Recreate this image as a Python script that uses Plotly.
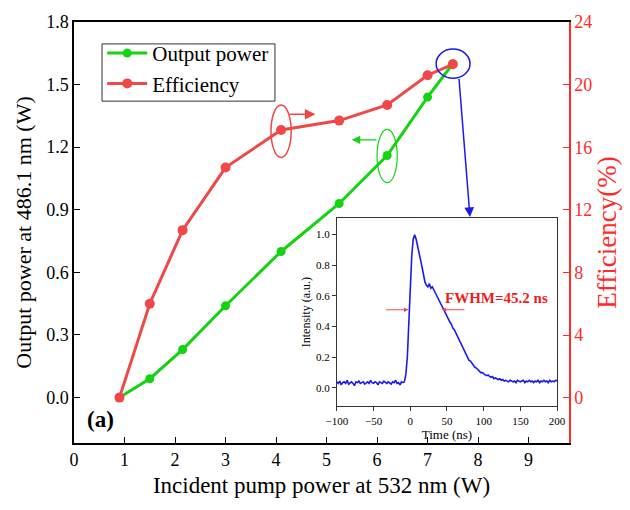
import plotly.graph_objects as go

# Pump-power scan: output power at 486.1 nm and conversion efficiency
pump_w = [0.9, 1.5, 2.15, 3.0, 4.1, 5.25, 6.2, 7.0, 7.5]
power_w = [0.0, 0.09, 0.23, 0.44, 0.70, 0.93, 1.16, 1.44, 1.60]
efficiency_pct = [0.0, 6.0, 10.7, 14.7, 17.1, 17.7, 18.7, 20.6, 21.3]

x_ticks = [0, 1, 2, 3, 4, 5, 6, 7, 8, 9]
power_ticks = [0.0, 0.3, 0.6, 0.9, 1.2, 1.5, 1.8]
power_tick_text = ["0.0", "0.3", "0.6", "0.9", "1.2", "1.5", "1.8"]
eff_ticks = [0, 4, 8, 12, 16, 20, 24]

# Pulse waveform at maximum output (inset)
t_ns = [-100, -98, -96, -94, -92, -90, -88, -86, -84, -82, -80, -78, -76, -74, -72,
        -70, -68, -66, -64, -62, -60, -58, -56, -54, -52, -50, -48, -46, -44, -42,
        -40, -38, -36, -34, -32, -30, -28, -26, -24, -22, -20, -18, -16, -14, -12,
        -10, -8, -6, -4, -2, 0, 2, 4, 6, 8, 10, 12, 14, 16, 18,
        20, 22, 24, 26, 28, 30, 32, 34, 36, 38, 40, 42, 44, 46, 48,
        50, 52, 54, 56, 58, 60, 62, 64, 66, 68, 70, 72, 74, 76, 78,
        80, 82, 84, 86, 88, 90, 92, 94, 96, 98, 100, 102, 104, 106, 108,
        110, 112, 114, 116, 118, 120, 122, 124, 126, 128, 130, 132, 134, 136, 138,
        140, 142, 144, 146, 148, 150, 152, 154, 156, 158, 160, 162, 164, 166, 168,
        170, 172, 174, 176, 178, 180, 182, 184, 186, 188, 190, 192, 194, 196, 198, 200]
intensity = [0.04, 0.03, 0.045, 0.02, 0.035, 0.04, 0.03, 0.05, 0.025, 0.035, 0.04, 0.03, 0.015, 0.04, 0.035,
             0.045, 0.03, 0.035, 0.04, 0.025, 0.035, 0.04, 0.03, 0.05, 0.035, 0.03, 0.04, 0.035, 0.02, 0.04,
             0.035, 0.03, 0.045, 0.035, 0.03, 0.04, 0.035, 0.025, 0.04, 0.035, 0.05, 0.03, 0.035, 0.02, 0.04,
             0.035, 0.04, 0.09, 0.20, 0.43, 0.64, 0.86, 0.97, 1.0, 0.97, 0.93, 0.89, 0.84, 0.79, 0.74,
             0.69, 0.67, 0.66, 0.68, 0.65, 0.66, 0.64, 0.63, 0.60, 0.585, 0.56, 0.545, 0.525, 0.50, 0.485,
             0.47, 0.45, 0.43, 0.415, 0.39, 0.38, 0.36, 0.335, 0.32, 0.30, 0.28, 0.265, 0.24, 0.225, 0.20,
             0.18, 0.175, 0.16, 0.15, 0.135, 0.13, 0.12, 0.115, 0.10, 0.10, 0.09, 0.085, 0.08, 0.085, 0.075,
             0.07, 0.075, 0.06, 0.065, 0.06, 0.055, 0.06, 0.05, 0.055, 0.045, 0.05, 0.045, 0.04, 0.05, 0.045,
             0.04, 0.045, 0.035, 0.05, 0.045, 0.04, 0.045, 0.05, 0.035, 0.045, 0.04, 0.05, 0.04, 0.045, 0.035,
             0.045, 0.04, 0.05, 0.035, 0.045, 0.04, 0.05, 0.04, 0.045, 0.035, 0.05, 0.04, 0.045, 0.04, 0.05, 0.045]
time_ticks = [-100, -50, 0, 50, 100, 150, 200]
intensity_ticks = [0.0, 0.2, 0.4, 0.6, 0.8, 1.0]
intensity_tick_text = ["0.0", "0.2", "0.4", "0.6", "0.8", "1.0"]

fwhm_ns = 45.2
fwhm_start_ns = -2.5
half_max = 0.51

SERIF = "Liberation Serif"
GREEN = "#13d313"
RED = "#f04848"
AXRED = "#ff2a2a"
BLUE = "#1a1aee"

fig = go.Figure()

fig.add_trace(go.Scatter(
    x=pump_w, y=power_w, name="Output power", mode="lines+markers",
    line=dict(color=GREEN, width=3), marker=dict(color=GREEN, size=9),
    xaxis="x", yaxis="y"))
fig.add_trace(go.Scatter(
    x=pump_w, y=efficiency_pct, name="Efficiency", mode="lines+markers",
    line=dict(color=RED, width=3), marker=dict(color=RED, size=10),
    xaxis="x", yaxis="y2"))
fig.add_trace(go.Scatter(
    x=t_ns, y=intensity, mode="lines", showlegend=False,
    line=dict(color=BLUE, width=1.6), xaxis="x3", yaxis="y3"))

# Ellipses marking which axis each curve belongs to, and the zoom circle
i_eff, i_pow = 4, 6
shapes = [
    dict(type="circle", xref="x", yref="y2",
         x0=pump_w[i_eff] - 0.2, x1=pump_w[i_eff] + 0.2,
         y0=efficiency_pct[i_eff] - 1.75, y1=efficiency_pct[i_eff] + 1.6,
         line=dict(color=RED, width=1.5)),
    dict(type="circle", xref="x", yref="y",
         x0=pump_w[i_pow] - 0.2, x1=pump_w[i_pow] + 0.2,
         y0=power_w[i_pow] - 0.13, y1=power_w[i_pow] + 0.125,
         line=dict(color=GREEN, width=1.2)),
    dict(type="circle", xref="x", yref="y",
         x0=pump_w[-1] - 0.33, x1=pump_w[-1] + 0.34,
         y0=power_w[-1] - 0.07, y1=power_w[-1] + 0.07,
         line=dict(color=BLUE, width=1.5)),
    # legend frame
    dict(type="rect", xref="paper", yref="paper",
         x0=0.0566, x1=0.406, y0=0.812, y1=0.948,
         line=dict(color="#333333", width=1), layer="above"),
]

annotations = [
    # arrow pointing to the efficiency axis
    dict(xref="x", yref="y2", axref="x", ayref="y2",
         x=pump_w[i_eff] + 0.68, y=efficiency_pct[i_eff] + 1.0,
         ax=pump_w[i_eff] + 0.14, ay=efficiency_pct[i_eff] + 1.0,
         showarrow=True, arrowhead=2, arrowsize=1.4, arrowwidth=1.5,
         arrowcolor=RED, text=""),
    # arrow pointing to the power axis
    dict(xref="x", yref="y", axref="x", ayref="y",
         x=pump_w[i_pow] - 0.7, y=power_w[i_pow] + 0.075,
         ax=pump_w[i_pow] - 0.18, ay=power_w[i_pow] + 0.075,
         showarrow=True, arrowhead=2, arrowsize=1.4, arrowwidth=1.2,
         arrowcolor=GREEN, text=""),
    # zoom arrow from the top point down to the inset
    dict(xref="x", yref="y", axref="x", ayref="y",
         x=7.84, y=0.865, ax=7.62, ay=1.535,
         showarrow=True, arrowhead=2, arrowsize=1.3, arrowwidth=1.5,
         arrowcolor=BLUE, text=""),
    # FWHM markers on the pulse
    dict(xref="x3", yref="y3", axref="x3", ayref="y3",
         x=fwhm_start_ns, y=half_max, ax=-35, ay=half_max,
         showarrow=True, arrowhead=2, arrowsize=0.9, arrowwidth=1,
         arrowcolor=RED, text=""),
    dict(xref="x3", yref="y3", axref="x3", ayref="y3",
         x=fwhm_start_ns + fwhm_ns, y=half_max, ax=fwhm_start_ns + fwhm_ns + 33, ay=half_max,
         showarrow=True, arrowhead=2, arrowsize=0.9, arrowwidth=1,
         arrowcolor=RED, text=""),
    dict(xref="x3", yref="y3", x=fwhm_start_ns + fwhm_ns + 2, y=0.585,
         xanchor="left", yanchor="middle", showarrow=False,
         text=f"<b>FWHM={fwhm_ns} ns</b>",
         font=dict(family=SERIF, size=15, color="#ee1c1c")),
    # panel label
    dict(xref="paper", yref="paper", x=0.022, y=0.055, xanchor="left", yanchor="middle",
         showarrow=False, text="<b>(a)</b>",
         font=dict(family=SERIF, size=23, color="black")),
]

fig.update_layout(
    width=630, height=510,
    margin=dict(l=74, r=61, t=17, b=67),
    paper_bgcolor="white", plot_bgcolor="white",
    font=dict(family=SERIF, color="black"),
    shapes=shapes, annotations=annotations,
    legend=dict(x=0.057, y=0.974, xanchor="left", yanchor="top",
                bgcolor="rgba(0,0,0,0)", borderwidth=0,
                font=dict(family=SERIF, size=21, color="black"),
                tracegroupgap=0, itemwidth=40),
    xaxis=dict(domain=[0, 1], range=[0, 9.8], tickvals=x_ticks,
               ticks="inside", ticklen=6, tickwidth=1.3, tickcolor="black",
               showline=True, linecolor="black", linewidth=1.5, mirror=True,
               showgrid=False, zeroline=False,
               tickfont=dict(family=SERIF, size=18),
               title=dict(text="Incident pump power at 532 nm (W)",
                          font=dict(family=SERIF, size=23), standoff=8)),
    yaxis=dict(domain=[0, 1], range=[-0.218, 1.8], tickvals=power_ticks,
               ticktext=power_tick_text,
               ticks="inside", ticklen=6, tickwidth=1.3, tickcolor="black",
               showline=True, linecolor="black", linewidth=1.5,
               showgrid=False, zeroline=False,
               tickfont=dict(family=SERIF, size=18),
               title=dict(text="Output power at 486.1 nm (W)",
                          font=dict(family=SERIF, size=22), standoff=8)),
    yaxis2=dict(overlaying="y", side="right", anchor="x",
                range=[-2.9, 24], tickvals=eff_ticks,
                ticks="inside", ticklen=6, tickwidth=1.3, tickcolor=AXRED,
                showline=True, linecolor=AXRED, linewidth=1.5,
                showgrid=False, zeroline=False,
                tickfont=dict(family=SERIF, size=18, color=AXRED),
                title=dict(text="Efficiency(%)",
                           font=dict(family=SERIF, size=27, color=AXRED), standoff=6)),
    xaxis3=dict(domain=[0.531, 0.976], anchor="y3", range=[-100, 200],
                tickvals=time_ticks, ticks="outside", ticklen=4, tickwidth=1,
                tickcolor="#333333",
                showline=True, linecolor="#333333", linewidth=1, mirror=True,
                showgrid=False, zeroline=False,
                tickfont=dict(family=SERIF, size=11),
                title=dict(text="Time (ns)", font=dict(family=SERIF, size=13),
                           standoff=0)),
    yaxis3=dict(domain=[0.087, 0.535], anchor="x3", range=[-0.12, 1.11],
                tickvals=intensity_ticks, ticktext=intensity_tick_text,
                ticks="outside", ticklen=4, tickwidth=1, tickcolor="#333333",
                showline=True, linecolor="#333333", linewidth=1, mirror=True,
                showgrid=False, zeroline=False,
                tickfont=dict(family=SERIF, size=11),
                title=dict(text="Intensity (a.u.)", font=dict(family=SERIF, size=12),
                           standoff=2)),
)

fig.write_html("out.html")
